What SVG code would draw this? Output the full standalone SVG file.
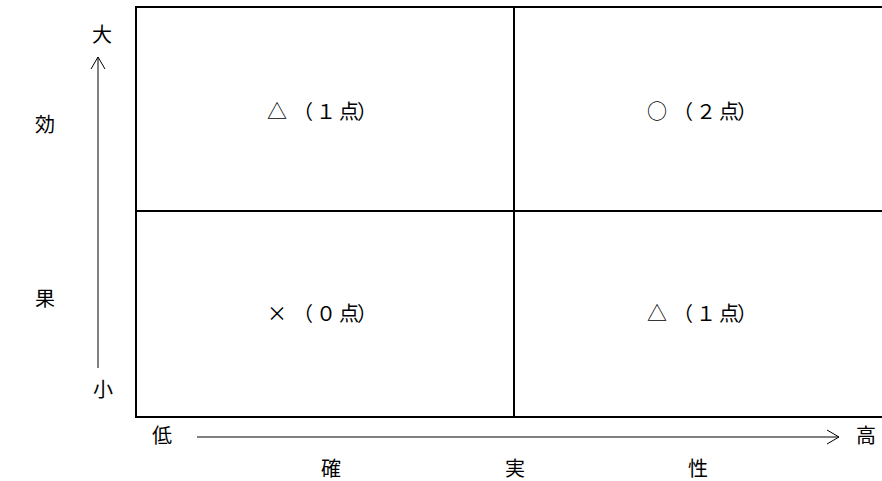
<svg xmlns="http://www.w3.org/2000/svg" width="882" height="481" viewBox="0 0 882 481">
<style>
text{font-family:"Noto Sans CJK JP","Liberation Sans",sans-serif;font-size:20px;fill:#000}
.grid{fill:none;stroke:#000;stroke-width:2}
.axis{fill:none;stroke:#000;stroke-width:1}
</style>
<rect width="882" height="481" fill="#fff"/>
<g id="matrix">
<rect class="grid" x="136" y="7" width="760" height="410"/>
<line class="grid" x1="514" y1="7" x2="514" y2="417"/>
<line class="grid" x1="136" y1="211" x2="882" y2="211"/>
</g>
<g id="cell-top-left"><text x="267" y="119">△<tspan x="293 316 339 357">（１点）</tspan></text></g>
<g id="cell-top-right"><text x="647" y="119">○<tspan x="673 696 719 737">（２点）</tspan></text></g>
<g id="cell-bottom-left"><text x="267" y="321">×<tspan x="293 316 339 357">（０点）</tspan></text></g>
<g id="cell-bottom-right"><text x="647" y="321">△<tspan x="673 696 719 737">（１点）</tspan></text></g>
<g id="connectors">
<line class="axis" x1="98" y1="57" x2="98" y2="368"/>
<polyline class="axis" points="91,69 98,57 105,69"/>
<line class="axis" x1="197" y1="437" x2="839" y2="437"/>
<polyline class="axis" points="827,430 839,437 827,444"/>
</g>
<g id="labels">
<text x="102" y="42" text-anchor="middle">大</text>
<text x="103" y="397" text-anchor="middle">小</text>
<text x="45" y="132" text-anchor="middle">効</text>
<text x="45" y="306" text-anchor="middle">果</text>
<text x="162" y="443" text-anchor="middle">低</text>
<text x="866" y="443" text-anchor="middle">高</text>
<text x="331" y="476" text-anchor="middle">確</text>
<text x="515" y="476" text-anchor="middle">実</text>
<text x="698" y="476" text-anchor="middle">性</text>
</g>
</svg>
